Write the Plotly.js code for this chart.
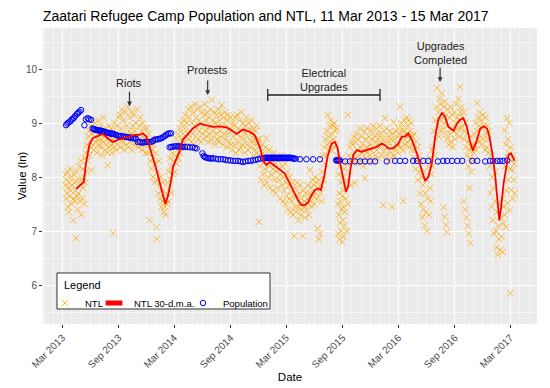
<!DOCTYPE html>
<html>
<head>
<meta charset="utf-8">
<script src="https://cdn.plot.ly/plotly-3.0.1.min.js"></script>
<style>html,body{margin:0;padding:0;background:#fff;}#chart{width:550px;height:388px;}</style>
</head>
<body>
<div id="chart"></div>
<script>
// Day offsets are days since 1 Mar 2013
const startDate = Date.UTC(2013, 2, 1);

// NTL daily observations [day, ln value]
const ntlObs = [
[10,7.85],[11,8.05],[12,7.6],[14,7.95],[15,7.7],[17,8.1],[18,7.45],[20,7.8],[21,7.35],[23,7.9],[25,7.65],[26,8.15],[28,7.75],[30,7.5],[31,8.0],[33,7.85],[35,7.2],[36,7.6],[38,8.05],[40,7.9],[41,7.55],[43,7.75],[45,6.87],[46,8.1],[48,7.65],[50,7.4],[52,7.95],
[53,7.7],[55,8.2],[57,7.55],[58,7.85],[60,8.3],[62,7.3],[63,7.95],[65,7.6],[67,8.15],[68,7.8],[70,8.0],[72,7.5],[73,8.35],[75,7.9],
[76,8.45],[78,8.1],[80,8.6],[82,8.3],[84,8.75],[85,8.5],[87,8.85],[89,8.4],[90,8.65],[92,8.95],[94,8.55],[95,8.13],[97,8.8],[99,8.6],
[101,8.9],[103,8.5],[105,8.75],[107,9.0],[109,8.65],[111,8.85],[113,8.45],[115,8.7],[117,9.05],[119,8.6],[121,8.8],[123,8.55],[125,8.95],[127,8.7],[129,8.4],[131,8.85],[133,8.65],[135,9.1],[137,8.75],[139,8.5],[141,8.9],[143,8.6],[145,8.8],[147,8.45],[148,8.22],[150,8.7],[152,8.95],[154,8.55],[156,8.75],[158,8.6],[160,8.9],[162,8.45],[164,8.7],[165,6.96],[166,8.85],[168,8.55],[170,9.0],[172,8.65],[174,8.8],[176,8.5],[178,8.95],[180,8.6],[182,8.75],[184,9.1],
[186,8.7],[188,9.15],[190,8.55],[192,8.9],[194,9.25],[196,8.65],[198,8.8],[200,9.05],[202,8.5],[204,8.75],[206,9.2],[208,8.6],[210,8.95],[212,8.7],[214,9.3],[216,8.55],[218,8.85],[220,9.1],[222,8.65],[224,8.8],[226,9.2],[228,8.5],[230,8.95],[232,8.7],[234,9.15],[236,8.6],[238,8.85],[240,9.0],[242,8.65],[244,9.25],[246,8.75],[248,8.55],[250,8.95],[252,8.7],[254,9.1],[256,8.6],[258,8.85],[260,8.5],[262,9.0],[264,8.75],[266,8.6],[268,8.9],[270,8.7],[272,8.45],
[276,8.9],[278,8.6],[280,8.45],[282,8.8],[284,7.2],[285,8.6],[287,8.3],[289,8.7],[291,8.15],[293,8.5],[295,8.0],[297,8.35],[299,8.6],[301,7.9],[303,8.25],[305,8.45],[307,7.07],[308,6.85],[309,7.95],[311,8.1],[313,7.7],[315,8.3],[317,7.85],[319,7.6],[321,8.0],[323,7.45],[325,7.75],[327,7.55],[329,7.9],[331,7.35],[333,7.6],[335,7.45],[337,7.3],[339,7.7],[341,7.5],
[343,7.9],[345,7.55],[347,8.1],[349,7.8],[351,8.35],[353,7.95],[355,8.2],[357,7.7],[359,8.45],[361,8.05],[363,8.3],[365,8.55],[367,8.1],[369,8.4],[371,8.7],[373,8.25],[375,8.5],[377,8.8],[379,8.35],[381,8.6],[383,8.9],[385,8.45],[387,8.7],[389,9.0],[391,8.55],[393,8.8],
[395,9.05],[397,8.65],[399,8.9],[401,9.15],[403,8.75],[405,8.55],[407,9.0],[409,8.8],[411,9.25],[413,8.7],[415,9.1],[417,8.85],[419,9.3],[421,8.65],[423,9.0],[425,8.8],[427,9.2],[429,8.6],[431,8.95],[433,9.35],[435,8.75],[437,9.1],[439,8.9],[441,9.25],[443,8.7],[445,9.05],[447,8.85],[449,9.3],[451,8.65],[453,9.0],[455,8.8],[457,9.2],[459,8.95],[461,8.7],[463,9.15],[465,9.35],[467,8.85],[469,9.05],
[471,8.75],[473,9.2],[475,8.9],[477,8.65],[479,9.1],[481,8.8],[483,9.25],[485,8.95],[487,9.43],[489,8.7],[491,9.05],[493,8.85],[495,9.2],[497,8.6],[499,9.0],[501,8.8],[503,9.15],[505,8.7],[507,8.95],[509,9.25],[511,8.65],[513,9.05],[515,8.85],[517,9.15],[519,8.75],[520,9.33],[522,8.95],[524,8.6],[526,9.1],[528,8.8],[530,9.2],[532,8.7],[534,8.95],[536,8.55],[538,9.05],[540,8.8],[542,9.15],[544,8.65],[546,8.9],[548,9.1],[550,8.6],[552,8.85],[554,8.5],[556,9.0],[558,8.75],
[560,8.95],[562,8.6],[564,9.1],[566,8.45],[568,8.8],[570,9.15],[572,8.65],[574,8.9],[576,8.5],[578,9.05],[580,8.75],[582,8.55],[584,9.2],[586,8.85],[588,8.6],[590,9.0],[592,8.7],[594,8.45],[596,8.95],[598,8.8],[600,9.1],[602,8.6],[604,8.85],[606,8.5],[608,9.0],[610,8.7],[612,8.9],[614,8.55],[616,8.8],[618,9.05],[620,8.65],[622,8.4],[624,8.9],[626,8.7],[628,8.5],[630,8.85],[632,8.6],[634,8.95],[636,8.45],[638,8.7],
[640,8.4],[641,7.17],[642,8.7],[644,8.2],[646,8.55],[648,7.95],[650,8.35],[652,8.6],[654,8.05],[656,8.45],[658,7.85],[660,8.3],[662,8.15],[664,8.55],[666,8.72],[668,7.9],[670,8.35],[672,8.0],[674,8.5],[676,8.2],[678,7.8],[680,8.4],[682,8.05],[684,8.3],[686,7.75],[688,8.15],[690,8.45],[692,7.95],[694,8.25],[696,7.7],[698,8.1],[700,8.35],
[702,7.8],[704,8.3],[706,7.95],[708,8.15],[710,7.6],[712,8.05],[714,8.4],[716,7.85],[718,8.2],[720,7.55],[722,8.0],[724,7.75],[726,8.25],[728,7.5],[730,7.9],[732,7.65],[734,8.1],[736,7.4],[738,7.85],[740,7.6],[742,8.0],[744,7.35],[746,7.75],[748,7.55],[750,7.9],[752,7.3],[754,7.65],[756,6.91],[758,7.45],[760,7.8],
[762,7.35],[764,7.65],[766,7.9],[768,7.45],[770,7.2],[772,7.7],[774,7.5],[776,7.85],[778,7.3],[780,7.6],[782,7.4],[784,6.91],[786,7.75],[788,7.45],[790,7.55],[792,7.25],[794,7.7],[796,7.4],[798,7.6],[800,7.85],[802,7.5],[804,7.3],[806,7.7],[808,8.13],[810,7.55],[812,7.8],[814,7.45],[816,7.95],[818,7.65],[820,7.85],[822,7.5],[824,8.0],[826,7.7],[828,7.9],[830,7.6],[832,7.05],[834,7.8],[836,6.85],[838,7.95],[840,6.95],[842,7.7],[844,7.85],[846,7.55],
[848,8.1],[850,8.4],[852,7.95],[854,8.55],[856,8.25],[858,8.7],[860,8.4],[862,8.85],[864,8.6],[866,9.15],[868,8.75],[870,8.5],[872,8.95],[874,8.65],[876,9.05],[878,8.8],[880,8.5],[882,8.95],[884,8.7],[886,9.0],[888,8.55],[890,8.85],[892,8.6],[894,8.9],[896,8.4],
[898,8.3],[899,7.5],[900,6.95],[901,8.05],[902,7.3],[903,7.7],[904,6.85],[905,8.2],[906,7.15],[907,7.55],[908,7.9],[909,7.0],[910,8.35],[911,7.4],[912,6.8],[913,7.65],[914,8.0],[915,7.2],[916,7.45],[917,6.9],[918,7.75],[919,8.15],[920,7.1],[921,7.35],[922,7.85],[924,7.6],[926,8.25],[928,7.0],[930,7.95],[931,9.15],[932,7.5],[934,8.4],[936,8.1],[938,8.55],[940,7.85],[942,8.3],[944,8.65],
[946,8.6],[948,8.3],[950,8.75],[952,8.45],[954,7.89],[956,8.65],[958,8.35],[960,8.8],[962,8.5],[964,8.25],[966,8.7],[968,8.4],[970,8.9],[972,8.55],[974,8.3],[976,8.75],[978,8.45],[980,8.6],[982,8.2],[984,8.85],[986,8.5],[987,7.98],[988,8.35],[990,8.7],[992,8.45],[994,8.9],[996,8.55],[998,8.3],[1000,8.75],[1002,8.6],[1004,8.4],[1006,8.85],[1008,8.5],[1010,8.7],[1012,8.3],[1014,8.95],[1016,8.55],[1018,8.75],[1020,8.4],[1022,8.65],[1024,8.9],[1026,8.5],[1028,8.8],[1030,8.35],[1032,8.7],[1034,8.55],[1036,8.95],[1038,8.6],[1040,8.8],[1042,8.4],[1044,8.7],[1046,7.48],[1048,8.85],[1050,8.5],[1052,9.09],[1054,8.65],[1056,8.4],[1058,8.9],[1060,8.55],[1062,8.75],[1064,8.3],[1066,8.65],[1068,8.85],[1070,8.45],[1072,8.7],[1074,8.35],[1075,7.45],[1076,8.8],[1078,8.55],[1080,9.02],[1082,8.4],[1084,8.7],[1086,8.5],[1088,8.85],[1090,8.6],
[1092,8.75],[1094,8.45],[1096,8.9],[1098,8.6],[1100,8.8],[1101,9.3],[1103,8.55],[1105,9.0],[1107,8.7],[1109,8.9],[1111,8.5],[1112,7.56],[1114,8.85],[1116,9.05],[1118,8.6],[1120,8.8],[1122,9.1],[1124,8.65],[1126,8.95],[1128,8.75],[1130,9.05],[1132,8.55],[1134,8.85],[1136,8.7],[1138,9.0],[1140,8.5],[1142,8.75],
[1144,8.6],[1146,8.35],[1148,8.8],[1150,8.5],[1152,8.15],[1154,8.65],[1156,8.3],[1158,8.55],[1160,7.95],[1162,8.4],[1164,8.1],[1166,7.7],[1168,8.3],[1170,7.5],[1172,8.0],[1174,7.25],[1176,7.85],[1178,7.4],[1180,8.1],[1182,7.1],[1184,7.7],[1186,7.35],[1188,7.95],[1190,7.0],[1192,7.6],[1194,8.2],[1196,7.3],[1198,7.8],[1200,8.35],[1202,7.55],[1204,8.05],[1206,8.5],[1208,8.2],
[1210,8.55],[1212,8.85],[1214,8.4],[1216,9.05],[1218,8.7],[1220,9.3],[1222,9.65],[1224,8.95],[1226,9.2],[1228,8.75],[1230,9.45],[1232,9.05],[1234,8.85],[1236,9.35],[1238,9.55],[1240,9.1],[1242,8.9],[1243,7.44],[1244,9.3],[1246,9.0],[1247,7.26],[1248,9.4],[1250,8.8],[1251,7.11],[1252,9.15],[1254,8.7],[1255,6.98],[1256,9.25],[1258,8.95],[1260,8.6],[1262,9.1],[1264,8.8],[1266,9.3],[1268,8.65],[1270,8.9],[1272,9.15],[1274,8.55],[1276,8.85],[1278,9.2],[1280,8.7],[1282,9.0],[1284,9.35],[1286,8.8],[1288,9.1],[1290,8.9],[1292,9.45],[1294,9.05],[1296,8.75],[1297,9.67],[1298,9.2],[1300,8.9],
[1302,9.3],[1304,8.95],[1306,9.1],[1308,8.7],[1309,7.55],[1310,9.2],[1312,8.85],[1314,7.4],[1315,9.0],[1316,8.55],[1318,7.25],[1319,8.8],[1320,8.4],[1322,7.1],[1323,8.65],[1324,8.2],[1326,6.95],[1327,8.5],[1328,7.8],[1330,8.35],[1331,6.78],[1332,8.75],[1334,8.1],[1336,8.55],[1338,8.3],[1340,8.6],
[1342,8.45],[1344,8.8],[1346,8.6],[1348,9.0],[1350,8.5],[1352,8.85],[1353,9.37],[1354,8.7],[1356,9.1],[1358,8.65],[1360,8.95],[1362,9.2],[1364,8.75],[1366,9.05],[1368,8.6],[1370,8.9],[1372,9.15],[1374,8.7],[1376,8.95],[1378,8.5],[1380,9.1],[1382,8.8],[1384,8.55],[1386,8.95],[1388,8.7],[1390,8.45],[1392,8.85],
[1394,8.2],[1396,7.7],[1398,8.4],[1400,7.45],[1402,8.0],[1404,7.2],[1406,7.8],[1408,6.95],[1410,7.55],[1412,8.1],[1414,7.0],[1416,6.7],[1418,7.35],[1420,6.56],[1422,7.1],[1424,6.85],[1426,7.5],[1428,6.65],[1430,7.25],[1432,6.9],[1434,7.6],[1436,6.61],[1438,7.15],[1440,7.45],
[1442,8.87],[1443,7.3],[1444,8.2],[1446,7.07],[1447,8.6],[1448,7.75],[1450,9.09],[1451,8.35],[1452,7.52],[1454,8.7],[1455,7.95],[1456,8.45],[1458,9.0],[1459,7.39],[1460,8.15],[1461,5.85],[1462,8.55],[1464,7.76],[1466,8.3],[1467,8.13],[1468,7.6],[1470,8.4],[1472,7.95],[1474,8.25],[1475,7.7]
];

// NTL 30-day moving average [day, ln value]
const ntlMA = [
[45,7.78],[61,7.86],[70,7.91],[77,8.25],[88,8.59],[99,8.72],[115,8.76],[132,8.80],[148,8.72],[164,8.65],[181,8.69],[197,8.72],[213,8.75],[235,8.78],[252,8.78],[262,8.81],[274,8.75],[284,8.56],[295,8.38],[306,8.16],[317,7.91],[328,7.64],[336,7.50],[344,7.64],[355,7.94],[361,8.19],[368,8.28],[382,8.47],[393,8.69],[426,8.90],[448,8.99],[470,8.96],[491,8.93],[513,8.94],[535,8.92],[551,8.87],[568,8.80],[589,8.88],[611,8.84],[627,8.78],[644,8.56],[657,8.28],[666,8.22],[676,8.28],[698,8.19],[725,8.07],[742,7.88],[758,7.70],[769,7.57],[780,7.48],[791,7.48],[802,7.54],[813,7.67],[824,7.76],[834,7.79],[843,7.76],[854,8.01],[865,8.38],[878,8.62],[889,8.65],[898,8.53],[905,8.28],[916,8.01],[925,7.73],[932,7.82],[940,8.16],[949,8.41],[960,8.50],[976,8.47],[992,8.50],[1009,8.53],[1025,8.56],[1042,8.62],[1052,8.59],[1063,8.53],[1079,8.53],[1096,8.62],[1107,8.75],[1118,8.75],[1128,8.81],[1140,8.69],[1156,8.44],[1172,8.13],[1183,7.93],[1194,8.01],[1205,8.25],[1216,8.75],[1226,9.06],[1238,9.19],[1248,9.12],[1259,8.93],[1276,8.86],[1287,8.99],[1297,9.06],[1308,9.09],[1319,8.93],[1330,8.65],[1339,8.49],[1350,8.65],[1363,8.90],[1374,8.94],[1385,8.90],[1393,8.75],[1404,8.38],[1412,8.01],[1419,7.57],[1425,7.20],[1431,7.45],[1439,7.88],[1448,8.19],[1455,8.41],[1463,8.44],[1472,8.35],[1475,8.30]
];

// Population (ln, rescaled) [day, value]
const population = [
[12,8.96],[16,8.99],[20,9.01],[26,9.03],[30,9.06],[34,9.08],[38,9.10],[42,9.13],[48,9.17],[52,9.19],[56,9.21],[61,9.24],
[72,8.96],[77,9.07],[83,9.09],[88,9.07],[94,9.06],
[99,8.90],[102,8.89],[105,8.88],[108,8.88],[112,8.87],[115,8.87],[119,8.86],[123,8.86],[126,8.86],[130,8.85],[134,8.84],[137,8.84],[141,8.83],[146,8.82],[150,8.82],[154,8.81],[158,8.81],[162,8.80],[166,8.80],[170,8.79],[175,8.78],[180,8.77],[186,8.76],[191,8.76],[197,8.75],[203,8.75],[208,8.74],[214,8.74],[219,8.73],[224,8.73],[230,8.72],[235,8.72],[240,8.71],
[246,8.65],[252,8.65],[258,8.64],[264,8.64],[270,8.65],[276,8.65],[282,8.65],[290,8.65],[296,8.67],[301,8.69],[307,8.70],[312,8.70],[318,8.71],[323,8.72],[329,8.74],[334,8.76],[339,8.78],[344,8.80],[350,8.81],[355,8.81],
[350,8.55],[355,8.56],[360,8.56],[366,8.57],[372,8.57],[378,8.57],[382,8.57],[388,8.56],[392,8.56],[400,8.56],[408,8.56],[416,8.55],[425,8.55],[432,8.54],[438,8.53],
[457,8.44],[461,8.39],[465,8.37],[470,8.36],[475,8.35],[480,8.35],[486,8.34],[491,8.35],[500,8.34],[508,8.33],[516,8.33],[524,8.33],[532,8.32],[540,8.31],[548,8.31],[557,8.30],[565,8.30],[573,8.30],[581,8.29],[589,8.28],[597,8.29],[606,8.30],[614,8.30],[622,8.31],[630,8.32],[638,8.33],[646,8.34],[655,8.35],
[660,8.35],[664,8.36],[668,8.35],[671,8.36],[674,8.35],[678,8.36],[681,8.35],[684,8.36],[688,8.35],[691,8.36],[694,8.35],[698,8.36],[701,8.35],[704,8.36],[708,8.35],[711,8.36],[714,8.35],[718,8.36],[721,8.35],[724,8.36],[728,8.35],[731,8.36],[734,8.35],[738,8.36],[741,8.35],[744,8.36],[748,8.35],[752,8.35],[756,8.34],[761,8.34],
[775,8.33],[796,8.33],[818,8.33],[840,8.33],
[893,8.31],[896,8.31],[899,8.31],[902,8.31],[905,8.31],[922,8.29],[938,8.29],[954,8.29],[971,8.29],[987,8.29],[1003,8.29],[1020,8.29],[1058,8.29],[1085,8.30],[1101,8.30],[1118,8.30],[1144,8.30],[1157,8.30],[1177,8.30],[1193,8.30],[1225,8.29],[1242,8.30],[1255,8.30],[1271,8.30],[1288,8.30],[1304,8.30],[1337,8.30],[1353,8.30],[1379,8.29],[1395,8.30],[1405,8.30],[1418,8.30],[1428,8.30],[1438,8.30],[1451,8.31]
];

// Event annotations
const eventLabels = ['Riots', 'Protests', 'Upgrades<br>Completed'];
const eventDays = [219, 474, 1232];
const eventTextY = [9.75, 9.99, 10.29];
const eventTipY = [9.31, 9.52, 9.76];
// Electrical upgrades period
const upgradePeriod = [670, 1036];
const upgradeLevel = 9.52;
const upgradeTextY = 9.79;

const toDate = d => new Date(startDate + d * 86400000).toISOString().slice(0, 10);
const FONT = 'Liberation Sans, Arial, sans-serif';

const traces = [
  {
    type: 'scatter', mode: 'markers', name: 'NTL', legend: 'legend',
    x: ntlObs.map(p => toDate(p[0])), y: ntlObs.map(p => p[1]),
    marker: {symbol: 'x-thin-open', size: 6.5, color: 'rgba(255,165,0,0.75)', line: {width: 1, color: 'rgba(255,165,0,0.75)'}},
    hoverinfo: 'skip'
  },
  {
    type: 'scatter', mode: 'markers', name: 'Population', legend: 'legend3',
    x: population.map(p => toDate(p[0])), y: population.map(p => p[1]),
    marker: {symbol: 'circle-open', size: 5.5, color: '#0000FF', line: {width: 1, color: '#0000FF'}},
    hoverinfo: 'skip'
  },
  {
    type: 'scatter', mode: 'lines', name: 'NTL 30-d.m.a.', showlegend: false,
    x: ntlMA.map(p => toDate(p[0])), y: ntlMA.map(p => p[1]),
    line: {color: '#FF0000', width: 1.8},
    hoverinfo: 'skip'
  },
  {
    // legend key for the moving average (filled red bar)
    type: 'scatter', mode: 'markers', name: 'NTL 30-d.m.a.', legend: 'legend2',
    x: [null], y: [null],
    marker: {symbol: 'line-ew-open', size: 12, color: '#FF0000', line: {width: 5, color: '#FF0000'}},
    hoverinfo: 'skip'
  }
];

const annFont = {family: FONT, size: 11, color: '#222'};
const annotations = [];
eventLabels.forEach((lab, i) => {
  annotations.push({x: toDate(eventDays[i]), y: eventTextY[i], xref: 'x', yref: 'y', text: lab,
    showarrow: false, font: annFont, align: 'center', yanchor: 'middle'});
  annotations.push({x: toDate(eventDays[i]), y: eventTipY[i], xref: 'x', yref: 'y', text: '',
    showarrow: true, ax: 0, ay: -16, arrowhead: 2, arrowsize: 0.8, arrowwidth: 1.2, arrowcolor: '#333'});
});
annotations.push({x: toDate((upgradePeriod[0] + upgradePeriod[1]) / 2), y: upgradeTextY, xref: 'x', yref: 'y',
  text: 'Electrical<br>Upgrades', showarrow: false, font: annFont, align: 'center'});
// axis title and legend title
annotations.push({x: -0.0425, y: 0.5, xref: 'paper', yref: 'paper', text: 'Value (ln)', textangle: -90,
  showarrow: false, xanchor: 'center', yanchor: 'middle', font: {family: FONT, size: 11.5, color: '#000'}});
annotations.push({x: 0.0385, y: 0.1318, xref: 'paper', yref: 'paper', text: 'Legend',
  showarrow: false, xanchor: 'left', yanchor: 'middle', font: {family: FONT, size: 11, color: '#000'}});

const shapes = [
  {type: 'line', xref: 'x', yref: 'y', x0: toDate(upgradePeriod[0]), x1: toDate(upgradePeriod[1]), y0: upgradeLevel, y1: upgradeLevel, line: {color: '#222', width: 1.3}},
  {type: 'line', xref: 'x', yref: 'y', x0: toDate(upgradePeriod[0]), x1: toDate(upgradePeriod[0]), y0: upgradeLevel - 0.11, y1: upgradeLevel + 0.11, line: {color: '#222', width: 1.3}},
  {type: 'line', xref: 'x', yref: 'y', x0: toDate(upgradePeriod[1]), x1: toDate(upgradePeriod[1]), y0: upgradeLevel - 0.11, y1: upgradeLevel + 0.11, line: {color: '#222', width: 1.3}},
  // legend box
  {type: 'rect', xref: 'paper', yref: 'paper', x0: 0.0283, x1: 0.4595, y0: 0.0507, y1: 0.1723,
    fillcolor: '#FFFFFF', line: {color: '#333', width: 1}, layer: 'above'}
];

const tickFont = {family: FONT, size: 10, color: '#4D4D4D'};
const legFont = {family: FONT, size: 9.5, color: '#000'};
const legBase = {orientation: 'h', yanchor: 'middle', xanchor: 'left', y: 0.0709,
  bgcolor: 'rgba(0,0,0,0)', borderwidth: 0, font: legFont, itemwidth: 30};

const layout = {
  width: 550, height: 388,
  margin: {l: 43, r: 13, t: 28, b: 64},
  paper_bgcolor: '#FFFFFF', plot_bgcolor: '#EBEBEB',
  font: {family: FONT},
  title: {text: 'Zaatari Refugee Camp Population and NTL, 11 Mar 2013 - 15 Mar 2017',
    x: 0.078, xref: 'container', xanchor: 'left', y: 0.958, yref: 'container', yanchor: 'middle',
    font: {family: FONT, size: 14, color: '#000'}},
  xaxis: {
    type: 'date', range: ['2012-12-28', '2017-05-27'],
    tick0: '2013-03-01', dtick: 'M6', tickformat: '%b %Y', tickangle: -45,
    ticks: 'outside', ticklen: 3, tickcolor: '#333', tickwidth: 1,
    showgrid: true, gridcolor: '#FFFFFF', gridwidth: 1.1,
    minor: {tick0: '2013-03-01', dtick: 'M1', showgrid: true, gridcolor: '#FFFFFF', gridwidth: 0.5},
    zeroline: false, showline: false, tickfont: tickFont,
    title: {text: 'Date', font: {family: FONT, size: 11.5, color: '#000'}, standoff: 3}
  },
  yaxis: {
    range: [5.28, 10.76], dtick: 1, tick0: 0,
    ticks: 'outside', ticklen: 3, tickcolor: '#333', tickwidth: 1,
    showgrid: true, gridcolor: '#FFFFFF', gridwidth: 1.1,
    minor: {dtick: 0.5, showgrid: true, gridcolor: '#FFFFFF', gridwidth: 0.5},
    zeroline: false, showline: false, tickfont: tickFont
  },
  legend: Object.assign({}, legBase, {x: 0.004}),
  legend2: Object.assign({}, legBase, {x: 0.1032}),
  legend3: Object.assign({}, legBase, {x: 0.2834}),
  annotations: annotations,
  shapes: shapes,
  showlegend: true
};

Plotly.newPlot('chart', traces, layout, {displayModeBar: false, staticPlot: true});
</script>
</body>
</html>
